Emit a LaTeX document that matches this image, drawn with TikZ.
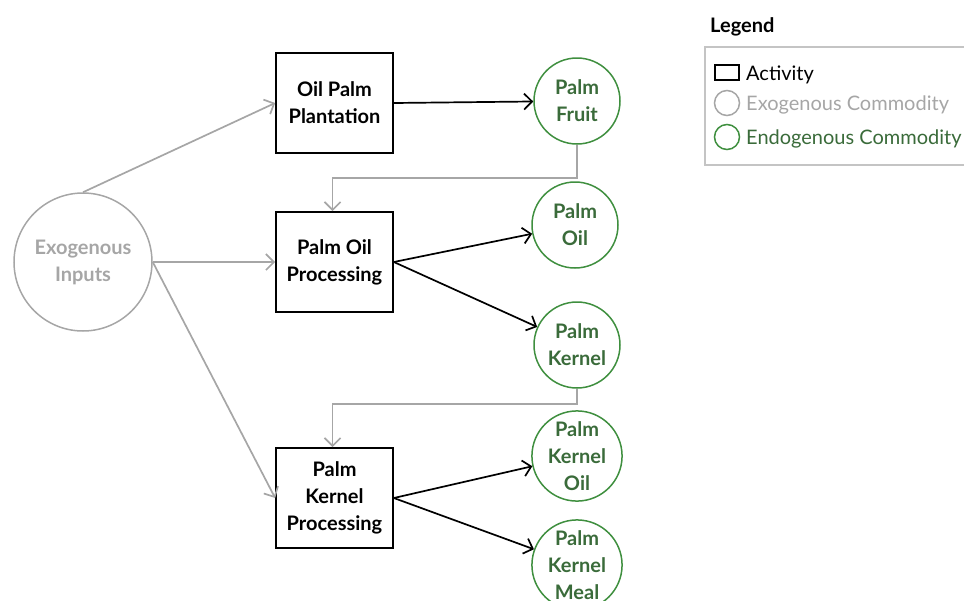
\documentclass[tikz,border=0pt]{standalone}
\usepackage{fontspec}
\setmainfont{Lato}
\usetikzlibrary{arrows.meta,positioning}
\definecolor{exogray}{HTML}{A6A6A6}
\definecolor{endoring}{HTML}{3F8F3F}
\definecolor{endotext}{HTML}{3A6B3A}
\definecolor{legendframe}{HTML}{C4C4C4}
\tikzset{
  lbl/.style={align=center,font=\bfseries\fontsize{20}{27}\selectfont},
  activity/.style={lbl,draw=black,line width=1.7pt,minimum width=117pt,minimum height=100pt,inner sep=0pt},
  exonode/.style={lbl,circle,draw=exogray,text=exogray,line width=1.5pt,minimum size=138pt,inner sep=0pt},
  endonode/.style={lbl,circle,draw=endoring,text=endotext,line width=1.5pt,minimum size=86pt,inner sep=0pt},
  flow/.style={line width=1.7pt,-{Straight Barb[length=8pt,width=16pt,line width=1.7pt]}},
  exoflow/.style={flow,draw=exogray},
  legtext/.style={anchor=base west,inner sep=0pt,font=\fontsize{20}{24}\selectfont}
}
\begin{document}
\begin{tikzpicture}[x=1pt,y=-1pt]
\useasboundingbox (0,0) rectangle (964,600);
\clip (0,0) rectangle (964,600);

% activities
\node[activity] (opp) at (334.5,103) {Oil Palm\\Plantation};
\node[activity] (pop) at (334.5,262) {Palm Oil\\Processing};
\node[activity] (pkp) at (334.5,498) {Palm\\Kernel\\Processing};

% commodities
\node[exonode] (exo) at (83,262) {Exogenous\\Inputs};
\node[endonode] (fruit) at (577,101) {Palm\\Fruit};
\node[endonode] (oil) at (575,225) {Palm\\Oil};
\node[endonode] (kernel) at (577,345) {Palm\\Kernel};
\node[endonode] (pko) at (577,456) {Palm\\Kernel\\Oil};
\node[endonode] (pkm) at (577,565) {Palm\\Kernel\\Meal};

% exogenous inputs
\draw[exoflow] (exo.north) -- (opp.west);
\draw[exoflow] (exo.east) -- (pop.west);
\draw[exoflow] (exo.east) -- (pkp.west);

% production flows
\draw[flow] (opp.east) -- (fruit);
\draw[flow] (pop.east) -- (oil);
\draw[flow] (pop.east) -- (kernel);
\draw[flow] (pkp.east) -- (pko);
\draw[flow] (pkp.east) -- (pkm);

% commodities feeding the next activity
\coordinate (fruitdrop) at ([yshift=-33pt]fruit.south);
\coordinate (kerneldrop) at ([yshift=-15pt]kernel.south);
\draw[exoflow] (fruit.south) -- (fruitdrop) -| ([xshift=-2pt]pop.north);
\draw[exoflow] (kernel.south) -- (kerneldrop) -| ([xshift=-2pt]pkp.north);

% legend
\node[anchor=base west,inner sep=0pt,font=\bfseries\fontsize{20}{24}\selectfont] (legtitle) at (710,32) {Legend};
\draw[legendframe,line width=1.5pt] (705,47) rectangle (975,165);
\node[draw=black,line width=1.5pt,minimum width=24pt,minimum height=15pt,inner sep=0pt] (keyact) at (727,72.5) {};
\node[circle,draw=exogray,line width=1.5pt,minimum size=25pt,inner sep=0pt] (keyexo) at (727,103) {};
\node[circle,draw=endoring,line width=1.5pt,minimum size=25pt,inner sep=0pt] (keyendo) at (727,137) {};
\node[legtext] at (746,80) {Activity};
\node[legtext,text=exogray] at (746,110) {Exogenous Commodity};
\node[legtext,text=endotext] at (746,144) {Endogenous Commodity};
\end{tikzpicture}
\end{document}
